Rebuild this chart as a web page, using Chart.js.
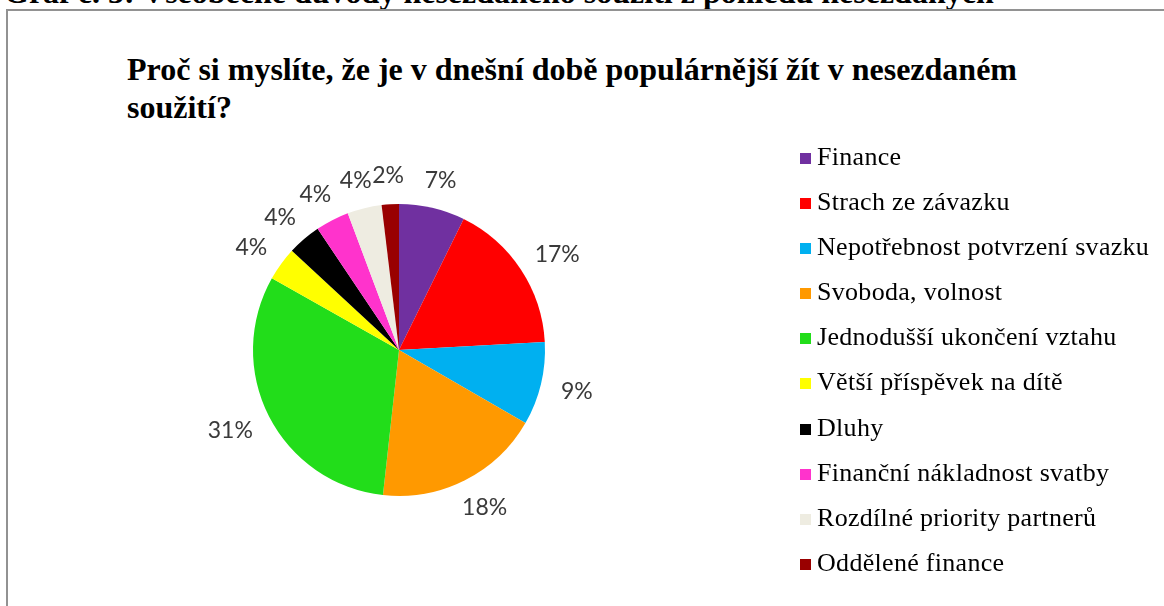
<!DOCTYPE html>
<html lang="cs">
<head>
<meta charset="utf-8">
<title>Graf č. 3</title>
<script src="https://cdn.jsdelivr.net/npm/chart.js@4.4.1/dist/chart.umd.min.js"></script>
<style>
	html, body { margin: 0; padding: 0; width: 1164px; height: 606px; overflow: hidden; background: #fff; }
	#caption { position: absolute; left: 4px; top: -24px; font: bold 32px 'Liberation Serif', serif; line-height: 32px; white-space: nowrap; color: #000; }
	#frame { position: absolute; left: 6px; top: 9px; width: 1300px; height: 700px; border-left: 2px solid #929292; border-top: 2px solid #929292; }
	#title { position: absolute; left: 127px; top: 50px; font: bold 32px 'Liberation Serif', serif; line-height: 38px; color: #000; white-space: nowrap; }
	#pie { position: absolute; left: 0; top: 0; }
	#legend { position: absolute; left: 800px; top: 134px; }
	.item { position: relative; height: 45.1px; }
	.item .box { position: absolute; left: 0; top: 19px; width: 11px; height: 11px; }
	.item .txt { position: absolute; left: 17px; top: 0; font: 26px 'Liberation Serif', serif; line-height: 45px; letter-spacing: 0.3px; white-space: nowrap; color: #000; }
</style>
</head>
<body>
<div id="caption">Graf č. 3: Všeobecné důvody nesezdaného soužití z pohledu nesezdaných</div>
<div id="frame"></div>
<div id="title">Proč si myslíte, že je v dnešní době populárnější žít v nesezdaném<br>soužití?</div>
<canvas id="pie" width="1164" height="606"></canvas>
<div id="legend"></div>
<script>
// důvody (kategorie)
var reasons = [
	'Finance',
	'Strach ze závazku',
	'Nepotřebnost potvrzení svazku',
	'Svoboda, volnost',
	'Jednodušší ukončení vztahu',
	'Větší příspěvek na dítě',
	'Dluhy',
	'Finanční nákladnost svatby',
	'Rozdílné priority partnerů',
	'Oddělené finance'
];
// podíly v procentech
var shares = [7.3, 16.8, 9.2, 18.4, 31.4, 3.7, 3.7, 3.7, 3.8, 1.9];
var colors = ['#7030a0', '#ff0000', '#00b0f0', '#ff9900', '#22dd1a', '#ffff00', '#000000', '#ff33cc', '#eeece1', '#990000'];

// legenda
var legend = document.getElementById('legend');
reasons.forEach(function(name, i) {
	var row = document.createElement('div');
	row.className = 'item';
	row.innerHTML = '<span class="box" style="background:' + colors[i] + '"></span><span class="txt"></span>';
	row.querySelector('.txt').textContent = name;
	legend.appendChild(row);
});

// popisky s procenty vně koláče
var outsideLabels = {
	id: 'outsideLabels',
	afterDatasetsDraw: function(chart) {
		var ctx = chart.ctx;
		var meta = chart.getDatasetMeta(0);
		var total = shares.reduce(function(a, b) { return a + b; }, 0);
		ctx.save();
		ctx.font = '23px Lato';
		ctx.fillStyle = '#3a3a3a';
		ctx.textAlign = 'center';
		ctx.textBaseline = 'alphabetic';
		meta.data.forEach(function(arc, i) {
			var p = arc.getProps(['x', 'y', 'startAngle', 'endAngle', 'outerRadius'], true);
			var mid = (p.startAngle + p.endAngle) / 2;
			var ux = Math.cos(mid), uy = Math.sin(mid);
			var text = Math.round(shares[i] / total * 100) + '%';
			var w = ctx.measureText(text).width;
			var h = 17;
			var r = p.outerRadius + 21;
			var x = p.x + r * ux + w / 2 * ux;
			var y = p.y + r * uy + h / 2 * uy;
			ctx.fillText(text, x, y + h / 2);
		});
		ctx.restore();
	}
};

new Chart(document.getElementById('pie'), {
	type: 'pie',
	data: {
		labels: reasons,
		datasets: [{
			data: shares,
			backgroundColor: colors,
			borderWidth: 0
		}]
	},
	options: {
		responsive: false,
		animation: false,
		layout: {
			padding: { left: 253, right: 619, top: 204, bottom: 110 }
		},
		plugins: {
			legend: { display: false },
			title: { display: false },
			tooltip: { enabled: false }
		}
	},
	plugins: [outsideLabels]
});
</script>
</body>
</html>
